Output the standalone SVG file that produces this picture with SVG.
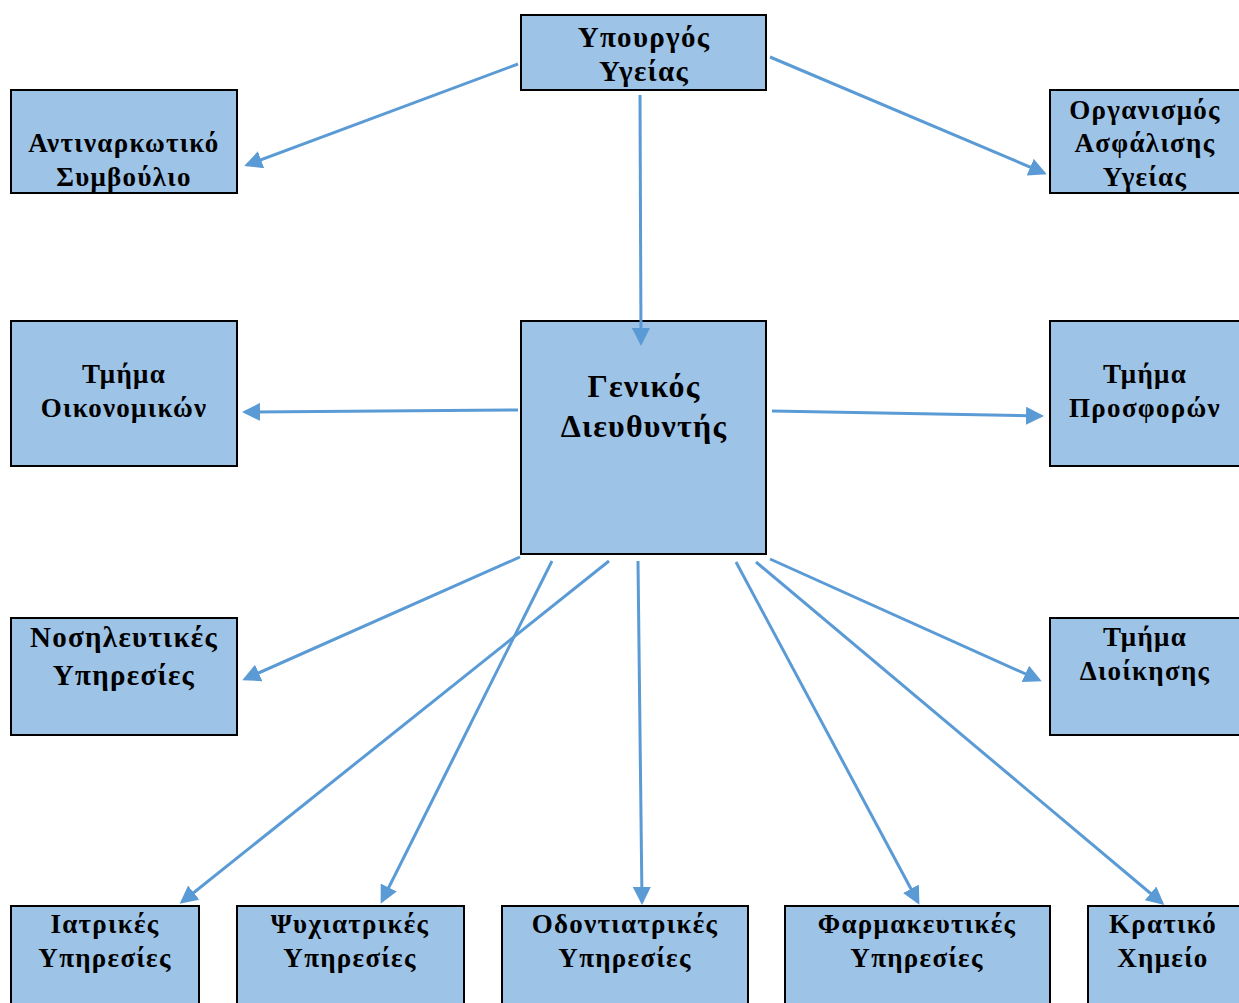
<svg xmlns="http://www.w3.org/2000/svg" width="1239" height="1003" viewBox="0 0 1239 1003">
<defs>
<style>
.box{fill:#9DC3E6;stroke:#000;stroke-width:2}
.t{font-family:"Liberation Serif","Times New Roman",serif;font-weight:bold;font-size:27px;letter-spacing:1.3px;fill:#000;text-anchor:middle}
.big{font-size:32px;letter-spacing:1.2px}
.c{stroke:#5B9BD5;stroke-width:3;fill:none;marker-end:url(#ah)}
</style>
<marker id="ah" markerWidth="6" markerHeight="6" refX="5" refY="3" orient="auto" markerUnits="strokeWidth">
<path d="M0,0 L6,3 L0,6 Z" fill="#5B9BD5"/>
</marker>
</defs>
<rect width="1239" height="1003" fill="#fff"/>
<g id="n-ypourgos"><rect class="box" x="521" y="15" width="245" height="75"/><text class="t" x="644" y="47" style="font-size:29px">Υπουργός</text><text class="t" x="644" y="81" style="font-size:29px">Υγείας</text></g>
<g id="n-antinarkotiko"><rect class="box" x="11" y="90" width="226" height="103"/><text class="t" x="124" y="152">Αντιναρκωτικό</text><text class="t" x="124" y="186">Συμβούλιο</text></g>
<g id="n-organismos"><rect class="box" x="1050" y="90" width="192" height="103"/><text class="t" x="1145" y="119">Οργανισμός</text><text class="t" x="1145" y="152">Ασφάλισης</text><text class="t" x="1145" y="186">Υγείας</text></g>
<g id="n-oikonomikon"><rect class="box" x="11" y="321" width="226" height="145"/><text class="t" x="124" y="383">Τμήμα</text><text class="t" x="124" y="417">Οικονομικών</text></g>
<g id="n-genikos"><rect class="box" x="521" y="321" width="245" height="233"/><text class="t big" x="644" y="397">Γενικός</text><text class="t big" x="644" y="437">Διευθυντής</text></g>
<g id="n-prosforon"><rect class="box" x="1050" y="321" width="192" height="145"/><text class="t" x="1145" y="383">Τμήμα</text><text class="t" x="1145" y="417">Προσφορών</text></g>
<g id="n-nosileftikes"><rect class="box" x="11" y="618" width="226" height="117"/><text class="t" x="124" y="647" style="font-size:29px">Νοσηλευτικές</text><text class="t" x="124" y="685" style="font-size:29px">Υπηρεσίες</text></g>
<g id="n-dioikisis"><rect class="box" x="1050" y="618" width="192" height="117"/><text class="t" x="1145" y="646">Τμήμα</text><text class="t" x="1145" y="680">Διοίκησης</text></g>
<g id="n-iatrikes"><rect class="box" x="11" y="906" width="188" height="100"/><text class="t" x="105" y="933">Ιατρικές</text><text class="t" x="105" y="967">Υπηρεσίες</text></g>
<g id="n-psychiatrikes"><rect class="box" x="237" y="906" width="227" height="100"/><text class="t" x="350" y="933">Ψυχιατρικές</text><text class="t" x="350" y="967">Υπηρεσίες</text></g>
<g id="n-odontiatrikes"><rect class="box" x="502" y="906" width="246" height="100"/><text class="t" x="625" y="933">Οδοντιατρικές</text><text class="t" x="625" y="967">Υπηρεσίες</text></g>
<g id="n-farmakeftikes"><rect class="box" x="785" y="906" width="265" height="100"/><text class="t" x="917" y="933">Φαρμακευτικές</text><text class="t" x="917" y="967">Υπηρεσίες</text></g>
<g id="n-kratiko"><rect class="box" x="1088" y="906" width="154" height="100"/><text class="t" x="1163" y="933">Κρατικό</text><text class="t" x="1163" y="967">Χημείο</text></g>
<g id="connectors">
<line class="c" x1="518" y1="64" x2="247" y2="165"/>
<line class="c" x1="640" y1="95" x2="641" y2="343"/>
<line class="c" x1="770" y1="57" x2="1044" y2="173"/>
<line class="c" x1="518" y1="410" x2="245" y2="412"/>
<line class="c" x1="772" y1="411" x2="1041" y2="416"/>
<line class="c" x1="520" y1="557" x2="245" y2="679"/>
<line class="c" x1="552" y1="561" x2="382" y2="901"/>
<line class="c" x1="609" y1="561" x2="182" y2="902"/>
<line class="c" x1="638" y1="561" x2="642" y2="902"/>
<line class="c" x1="736" y1="562" x2="918" y2="902"/>
<line class="c" x1="756" y1="562" x2="1162" y2="903"/>
<line class="c" x1="770" y1="559" x2="1039" y2="680"/>
</g>
</svg>
